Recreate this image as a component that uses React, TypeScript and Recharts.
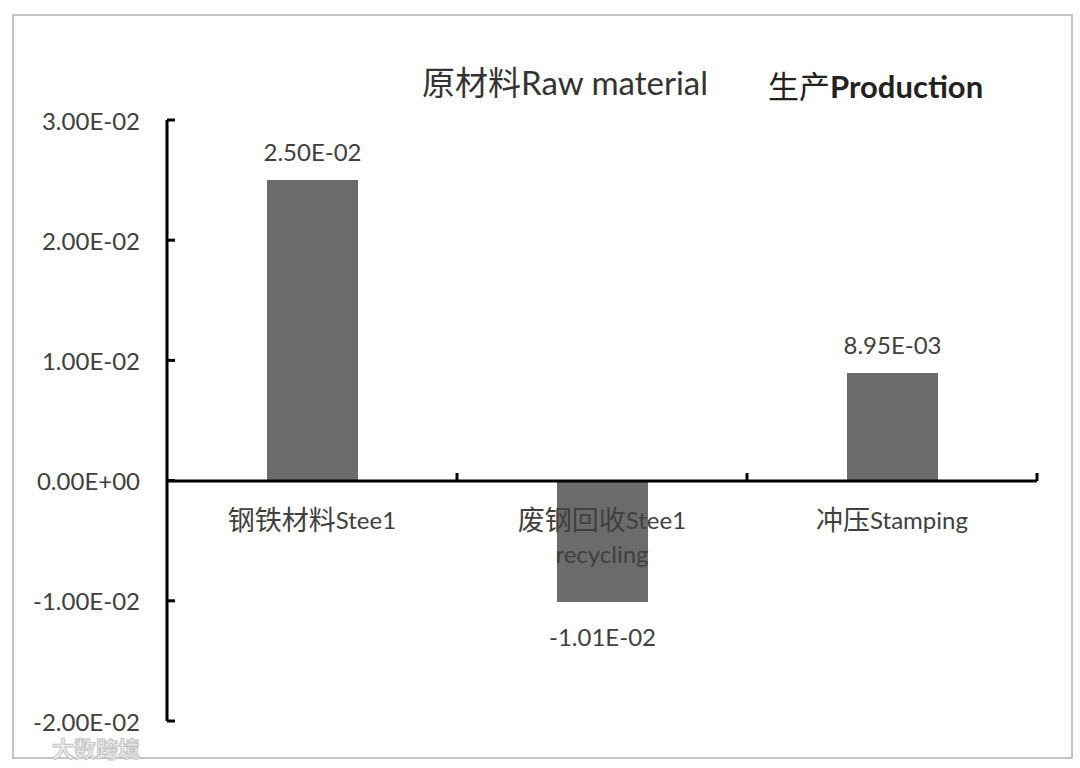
import { Bar, BarChart, LabelList, XAxis, YAxis } from 'recharts'

const categories = ['钢铁材料Stee1', '废钢回收Stee1\nrecycling', '冲压Stamping']
const values = [0.025, -0.0101, 0.00895]
const yTicks = [-0.02, -0.01, 0, 0.01, 0.02, 0.03]

const FONT = "Lato, 'Noto Sans CJK SC', sans-serif"
const TEXT = '#404040'

// Excel style scientific notation: 2.50E-02
function sci(v: number) {
  const [m, e] = v.toExponential(2).split('e')
  const n = Number(e)
  return `${m}E${n < 0 ? '-' : '+'}${String(Math.abs(n)).padStart(2, '0')}`
}

const data = categories.map((name, i) => ({ name, value: values[i] }))

// split a label into CJK / latin runs so the CJK part can be drawn a bit larger
function runs(s: string) {
  return s.match(/[\u4e00-\u9fff]+|[^\u4e00-\u9fff]+/g) ?? [s]
}

function YTick(props: any) {
  const { x, y, payload } = props
  return (
    <g>
      <line x1={x} x2={x + 8} y1={y} y2={y} stroke="#000" strokeWidth={3} />
      <text x={x - 27} y={y} textAnchor="end" dominantBaseline="central" fontSize={24} fill={TEXT} fontFamily={FONT}>
        {sci(payload.value)}
      </text>
    </g>
  )
}

// category axis sitting on the zero line: label under the band, tick mark at the band's right edge
function XTick(props: any) {
  const { x, y, payload } = props
  const edge = x + (payload.offset ?? 0)
  const lines = String(payload.value).split('\n')
  return (
    <g>
      <line x1={edge} x2={edge} y1={y} y2={y - 8} stroke="#000" strokeWidth={3} />
      {lines.map((l, i) => (
        <text
          key={i}
          x={x}
          y={y + 38 + i * 34}
          textAnchor="middle"
          dominantBaseline="central"
          fontSize={24}
          fill={TEXT}
          fontFamily={FONT}
        >
          {runs(l).map((r, j) => (
            <tspan key={j} fontSize={/[\u4e00-\u9fff]/.test(r) ? 27 : 24}>
              {r}
            </tspan>
          ))}
        </text>
      ))}
    </g>
  )
}

function ValueLabel(props: any) {
  const vb = props.viewBox ?? props
  const top = Math.min(vb.y, vb.y + vb.height)
  const bottom = Math.max(vb.y, vb.y + vb.height)
  const v = Number(props.value)
  const y = v >= 0 ? top - 29 : bottom + 34
  return (
    <text x={vb.x + vb.width / 2} y={y} textAnchor="middle" dominantBaseline="central" fontSize={24} fill={TEXT} fontFamily={FONT}>
      {sci(v)}
    </text>
  )
}

export default function App() {
  return (
    <div style={{ position: 'absolute', left: 0, top: 0, width: 1080, height: 768, background: '#fff' }}>
      <div
        style={{
          position: 'absolute',
          left: 12,
          top: 14,
          width: 1057,
          height: 741,
          border: '2px solid #c4c4c4',
        }}
      />
      <BarChart
        width={1080}
        height={768}
        data={data}
        margin={{ top: 120, right: 43, left: 67, bottom: 47 }}
        style={{ position: 'absolute', left: 0, top: 0 }}
      >
        <XAxis dataKey="name" hide />
        <YAxis
          width={100}
          domain={[-0.02, 0.03]}
          ticks={yTicks}
          interval={0}
          tickSize={0}
          tickMargin={0}
          tickLine={false}
          axisLine={{ stroke: '#000', strokeWidth: 3 }}
          tick={<YTick />}
        />
        <Bar dataKey="value" barSize={91} fill="#6b6b6b" isAnimationActive={false}>
          <LabelList dataKey="value" content={<ValueLabel />} />
        </Bar>
      </BarChart>
      {/* second layer: only the category axis, its plot area ends at the zero line */}
      <BarChart
        width={1080}
        height={768}
        data={data}
        margin={{ top: 120, right: 43, left: 167, bottom: 286 }}
        style={{ position: 'absolute', left: 0, top: 0 }}
      >
        <XAxis
          dataKey="name"
          height={1}
          interval={0}
          tickSize={0}
          tickMargin={0}
          tickLine={false}
          axisLine={{ stroke: '#000', strokeWidth: 3 }}
          tick={<XTick />}
        />
        <YAxis hide domain={[0, 0.03]} />
        <Bar dataKey="value" fill="none" isAnimationActive={false} />
      </BarChart>
      <div
        style={{
          position: 'absolute',
          left: 422,
          top: 64,
          fontSize: 33,
          color: '#333',
          fontFamily: FONT,
          whiteSpace: 'nowrap',
          lineHeight: '36px',
        }}
      >
        原材料Raw material
      </div>
      <div
        style={{
          position: 'absolute',
          left: 768,
          top: 68,
          fontSize: 31,
          color: '#222',
          fontFamily: FONT,
          whiteSpace: 'nowrap',
          lineHeight: '36px',
        }}
      >
        生产<b>Production</b>
      </div>
      <div
        style={{
          position: 'absolute',
          left: 52,
          top: 731,
          fontSize: 22,
          color: '#eeeeee',
          fontFamily: FONT,
          fontWeight: 700,
          WebkitTextStroke: '1px #c4c4c4',
        }}
      >
        大数跨境
      </div>
    </div>
  )
}
